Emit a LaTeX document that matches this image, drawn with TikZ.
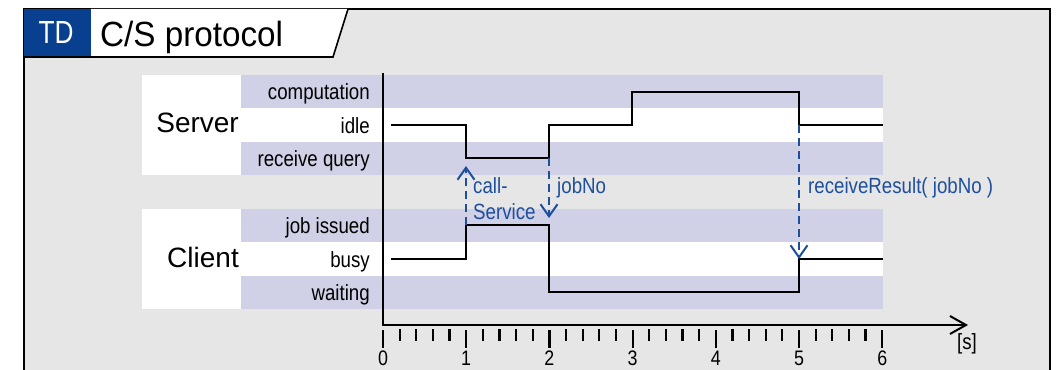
\documentclass[tikz,border=0pt]{standalone}
\usepackage{fontspec}
\setmainfont{Liberation Sans}
\newfontfamily\cond{Liberation Sans}[FakeStretch=0.85]
\newfontfamily\titlef{Liberation Sans}[FakeStretch=0.95]
\newfontfamily\tdf{Liberation Sans}[FakeStretch=0.82]
\usetikzlibrary{arrows.meta}
\definecolor{bg}{HTML}{E6E6E6}
\definecolor{lav}{HTML}{D0D0E6}
\definecolor{tdblue}{HTML}{08408F}
\definecolor{msg}{HTML}{1E4F9C}
\tikzset{
  lbl/.style={inner sep=0pt, anchor=base east, font=\cond\fontsize{22}{26}\selectfont},
  big/.style={inner sep=0pt, anchor=base east, font=\fontsize{28}{32}\selectfont},
  msgtxt/.style={inner sep=0pt, text=msg, font=\cond\fontsize{22}{26}\selectfont},
  signal/.style={line width=2pt, line join=miter},
  message/.style={msg, line width=2pt, dash pattern=on 8pt off 5pt, -{Straight Barb[length=12pt,width=17pt,line width=2pt]}},
  tick/.style={line width=2.2pt},
  num/.style={inner sep=0pt, anchor=base, font=\cond\fontsize{21}{24}\selectfont},
}
\begin{document}
\begin{tikzpicture}[x=1pt,y=-1pt]
\useasboundingbox (0,0) rectangle (1056,369);
\clip (0,0) rectangle (1056,369);
\fill[white] (0,0) rectangle (1056,369);
% frame
\fill[bg] (24,9) rectangle (1050,380);
\draw[line width=1.6pt] (24,380) -- (24,9) -- (1050,9) -- (1050,380);
% title tab
\fill[white] (91,9) -- (348,9) -- (333,57) -- (91,57) -- cycle;
\fill[tdblue] (24,9) rectangle (91,57);
\draw[line width=1.6pt] (24,57) -- (333,57) -- (348,9);
\node[inner sep=0pt, anchor=base, text=white, font=\tdf\fontsize{32}{36}\selectfont] (td) at (56,43.5) {TD};
\node[inner sep=0pt, anchor=base west, font=\titlef\fontsize{35}{40}\selectfont] (title) at (100,47) {C/S protocol};
% label boxes and bands
\fill[white] (142,75) rectangle (241,175);
\fill[white] (142,209) rectangle (241,309);
\fill[lav] (241,75) rectangle (883,108);
\fill[white] (241,108) rectangle (883,142);
\fill[lav] (241,142) rectangle (883,175);
\fill[lav] (241,209) rectangle (883,242);
\fill[white] (241,242) rectangle (883,276);
\fill[lav] (241,276) rectangle (883,309);
% lifeline names
\node[big] (server) at (239,132) {Server};
\node[big] (client) at (239,267) {Client};
% state labels
\node[lbl] (scomp) at (370,99.5) {computation};
\node[lbl] (sidle) at (370,133) {idle};
\node[lbl] (srecv) at (370,166.5) {receive query};
\node[lbl] (cjob) at (370,233.5) {job issued};
\node[lbl] (cbusy) at (370,267) {busy};
\node[lbl] (cwait) at (370,300.5) {waiting};
% axes
\coordinate (top) at (383,73);
\coordinate (origin) at (383,325);
\coordinate (tip) at (968,325);
\draw[line width=2pt, -{Straight Barb[length=16pt,width=18pt,line width=2pt]}] (top) -- (origin) -- (tip);
\foreach \i in {0,...,30}{
  \pgfmathsetmacro{\xx}{383+\i*16.64}
  \pgfmathtruncatemacro{\m}{mod(\i,5)}
  \ifnum\m=0
    \draw[tick] (\xx,330) -- (\xx,348);
  \else
    \draw[tick] (\xx,329) -- (\xx,341);
  \fi
}
\foreach \t in {0,...,6}{
  \node[num] (n\t) at ({383+\t*83.2},365.5) {\t};
}
\node[inner sep=0pt, font=\cond\fontsize{22}{26}\selectfont] (unit) at (967,344) {[s]};
% server signal
\draw[signal] (391,125) -- (466,125) -- (466,158) -- (549,158) -- (549,125) -- (632,125) -- (632,92) -- (799,92) -- (799,125) -- (883,125);
% client signal
\draw[signal] (391,259) -- (466,259) -- (466,225) -- (549,225) -- (549,292) -- (799,292) -- (799,259) -- (883,259);
% messages
\coordinate (m1s) at (466,225);
\coordinate (m1e) at (466,166);
\coordinate (m2s) at (549,158);
\coordinate (m2e) at (549,218);
\coordinate (m3s) at (799,125);
\coordinate (m3e) at (799,259);
\draw[message] (m1s) -- (m1e);
\draw[message] (m2s) -- (m2e);
\draw[message] (m3s) -- (m3e);
\node[msgtxt, anchor=north west, align=left] (callsvc) at (473,177) {call-\\Service};
\node[msgtxt, anchor=base west] (jobno) at (557,193) {jobNo};
\node[msgtxt, anchor=base west] (recv) at (808,193) {receiveResult( jobNo )};
\end{tikzpicture}
\end{document}
